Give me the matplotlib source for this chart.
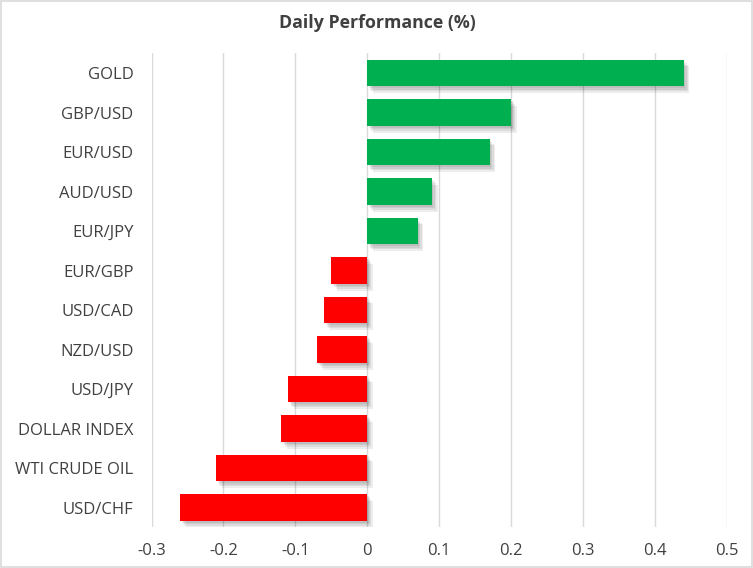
import matplotlib
matplotlib.use("Agg")
import matplotlib.pyplot as plt
import matplotlib.patheffects as pe
from matplotlib.patches import Rectangle

categories = ["GOLD", "GBP/USD", "EUR/USD", "AUD/USD", "EUR/JPY", "EUR/GBP",
              "USD/CAD", "NZD/USD", "USD/JPY", "DOLLAR INDEX", "WTI CRUDE OIL", "USD/CHF"]
values = [0.44, 0.20, 0.17, 0.09, 0.07, -0.05, -0.06, -0.07, -0.11, -0.12, -0.21, -0.26]
xticks = [-0.3, -0.2, -0.1, 0, 0.1, 0.2, 0.3, 0.4, 0.5]
xticklabels = ["-0.3", "-0.2", "-0.1", "0", "0.1", "0.2", "0.3", "0.4", "0.5"]

plt.rcParams['font.family'] = ['Open Sans', 'DejaVu Sans']

fig = plt.figure(figsize=(7.53, 5.68), dpi=100)
fig.patches.append(Rectangle((0.0015, 0.002), 0.997, 0.996, transform=fig.transFigure,
                             fill=False, edgecolor="#d9d9d9", linewidth=1.2))
ax = fig.add_axes([0.2012, 0.0717, 0.9655 - 0.2012, 0.9062 - 0.0717])

colors = ["#00B050" if v >= 0 else "#FF0000" for v in values]
ypos = list(range(len(categories)))
bars = ax.barh(ypos, values, height=0.68, color=colors, zorder=3)
shadow = [pe.SimplePatchShadow(offset=(o, -o * 1.2), shadow_rgbFace="#000000", alpha=0.07)
          for o in (1, 2, 3, 4)]
for b in bars:
    b.set_path_effects(shadow + [pe.Normal()])

ax.set_ylim(len(categories) - 0.5, -0.5)
ax.set_xlim(-0.3, 0.5)
ax.set_xticks(xticks)
ax.set_xticklabels(xticklabels)
ax.set_yticks(ypos)
ax.set_yticklabels(categories)
ax.grid(axis="x", color="#d9d9d9", linewidth=1, zorder=0)
ax.set_axisbelow(True)
for s in ax.spines.values():
    s.set_visible(False)
ax.tick_params(axis="both", length=0, labelsize=12, colors="#404040")
ax.tick_params(axis="x", pad=11)
ax.tick_params(axis="y", pad=13)

fig.text(0.501, 0.96, "Daily Performance (%)", ha="center", va="center",
         fontsize=12.8, fontweight="bold", color="#404040")

fig.savefig("out.png", dpi=100)
